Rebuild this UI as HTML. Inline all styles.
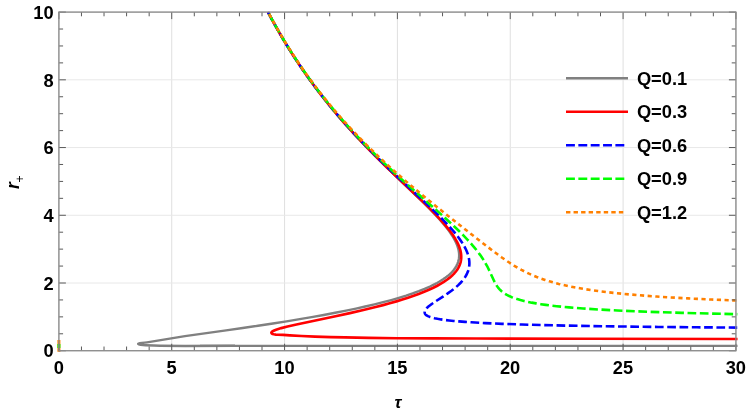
<!DOCTYPE html>
<html><head><meta charset="utf-8"><title>plot</title><style>html,body{margin:0;padding:0;background:#fff}svg{display:block}.t{font-family:"Liberation Sans",Arial,sans-serif}</style></head><body>
<svg width="747" height="414" viewBox="0 0 747 414">
<rect width="747" height="414" fill="#fff"/>
<g stroke="#e8e8e8" stroke-width="1"><line stroke="#dfdfdf" x1="58.89" y1="12.10" x2="58.89" y2="350.72"/><line stroke="#dfdfdf" x1="171.73" y1="12.10" x2="171.73" y2="350.72"/><line stroke="#dfdfdf" x1="284.57" y1="12.10" x2="284.57" y2="350.72"/><line stroke="#dfdfdf" x1="397.40" y1="12.10" x2="397.40" y2="350.72"/><line stroke="#dfdfdf" x1="510.24" y1="12.10" x2="510.24" y2="350.72"/><line stroke="#dfdfdf" x1="623.08" y1="12.10" x2="623.08" y2="350.72"/><line stroke="#dfdfdf" x1="735.92" y1="12.10" x2="735.92" y2="350.72"/><line x1="58.89" y1="350.72" x2="735.92" y2="350.72"/><line x1="58.89" y1="283.00" x2="735.92" y2="283.00"/><line x1="58.89" y1="215.27" x2="735.92" y2="215.27"/><line x1="58.89" y1="147.55" x2="735.92" y2="147.55"/><line x1="58.89" y1="79.82" x2="735.92" y2="79.82"/><line x1="58.89" y1="12.10" x2="735.92" y2="12.10"/></g>
<defs><clipPath id="c"><rect x="56.89" y="11.50" width="680.63" height="340.62"/></clipPath></defs>
<g clip-path="url(#c)" fill="none" stroke-linejoin="round">
<path d="M267.93,12.10 L271.45,18.69 L275.02,25.17 L278.70,31.66 L282.42,38.03 L286.19,44.30 L290.07,50.56 L294.00,56.72 L297.97,62.77 L302.06,68.82 L306.19,74.77 L310.43,80.71 L314.72,86.54 L319.12,92.38 L323.65,98.21 L328.21,103.94 L332.89,109.66 L340.47,118.63 L348.35,127.60 L356.53,136.57 L365.11,145.64 L374.50,155.26 L384.73,165.42 L394.98,175.36 L417.88,197.29 L423.75,203.01 L428.73,207.98 L434.49,213.93 L439.38,219.22 L443.69,224.19 L445.55,226.46 L447.33,228.73 L449.11,231.11 L450.78,233.48 L452.26,235.75 L453.57,237.91 L454.77,240.07 L455.79,242.13 L456.70,244.18 L457.44,246.12 L458.06,248.07 L458.55,250.01 L458.88,251.85 L459.08,253.69 L459.14,255.52 L459.07,257.25 L458.85,258.98 L458.49,260.71 L458.08,262.11 L457.56,263.52 L456.94,264.92 L456.20,266.33 L455.34,267.73 L454.44,269.03 L453.34,270.43 L452.20,271.73 L450.95,273.03 L449.58,274.32 L448.08,275.62 L446.59,276.81 L444.84,278.11 L443.12,279.29 L441.10,280.59 L439.13,281.78 L437.03,282.97 L434.80,284.16 L429.95,286.53 L424.55,288.91 L418.85,291.18 L412.62,293.45 L406.16,295.61 L398.82,297.88 L391.27,300.04 L383.16,302.20 L374.50,304.36 L365.26,306.52 L355.95,308.57 L346.12,310.63 L335.20,312.79 L323.71,314.95 L311.65,317.11 L299.68,319.16 L286.55,321.32 L272.90,323.48 L258.04,325.75 L242.70,328.02 L226.15,330.40 L184.96,336.13 L147,342.4 C142,343.25 138.1,342.9 138.1,343.95 C138.1,345.0 144,345.2 160,345.7 L185,346.0 L235,345.7" stroke="#808080" stroke-width="2.40"/>
<path d="M200,345.85 L740,345.85" stroke="#808080" stroke-width="2.1"/>
<path d="M267.95,12.10 L271.08,17.98 L274.25,23.76 L277.44,29.42 L280.71,35.09 L284.07,40.76 L287.45,46.32 L290.86,51.77 L294.35,57.23 L297.87,62.57 L301.47,67.92 L305.17,73.27 L308.88,78.51 L312.69,83.75 L316.59,88.99 L320.51,94.12 L324.52,99.25 L329.14,105.03 L333.81,110.70 L338.59,116.36 L343.49,122.03 L348.52,127.70 L353.67,133.37 L359.04,139.14 L364.53,144.92 L369.50,150.05 L374.68,155.29 L385.71,166.20 L396.37,176.46 L418.52,197.53 L427.87,206.62 L432.56,211.32 L436.70,215.60 L440.39,219.56 L443.73,223.30 L445.91,225.87 L447.93,228.33 L449.76,230.68 L451.50,233.03 L453.06,235.28 L454.45,237.42 L455.74,239.56 L456.87,241.59 L457.88,243.62 L458.73,245.54 L459.47,247.47 L460.09,249.39 L460.57,251.21 L460.92,253.03 L461.14,254.85 L461.23,256.56 L461.21,257.84 L461.12,259.13 L460.95,260.41 L460.73,261.58 L460.40,262.87 L460.03,264.04 L459.59,265.22 L459.07,266.40 L458.46,267.57 L457.78,268.75 L457.02,269.93 L456.25,271.00 L455.31,272.17 L454.38,273.24 L453.27,274.42 L452.18,275.49 L449.74,277.63 L446.97,279.76 L443.83,281.90 L440.50,283.93 L436.83,285.97 L432.79,288.00 L428.37,290.03 L423.57,292.06 L418.66,293.99 L413.69,295.80 L408.06,297.73 L402.41,299.55 L396.43,301.37 L389.72,303.29 L383.06,305.11 L375.64,307.03 L363.40,310.03 L349.90,313.13 L333.16,316.76 L296.50,324.46 L287.53,326.50 L281.23,328.10 L278.31,328.96 L276.07,329.70 L274.20,330.45 L272.74,331.20 L272.12,331.63 L271.76,331.95 L271.51,332.27 L271.36,332.59 L271.33,332.81 L271.94,333.65 L272.56,333.94 L273.84,334.28 L275.85,334.57 L277.95,334.75 L283.06,334.94 L289.89,335.40 L301.58,336.00 L314.96,336.57 L330.74,337.08 L344.96,337.44 L368.65,337.88 L397.09,338.30 L432.63,338.42 L476.07,338.47 L585.06,338.79 L742.24,339.01" stroke="#ff0000" stroke-width="2.65"/>
<path d="M267.99,12.10 L271.56,18.78 L275.22,25.41 L278.93,31.93 L282.69,38.34 L286.53,44.71 L290.46,51.02 L294.43,57.23 L298.49,63.38 L302.64,69.48 L306.83,75.48 L311.11,81.42 L315.50,87.36 L319.94,93.20 L324.51,99.04 L329.16,104.83 L333.94,110.61 L338.39,115.87 L342.95,121.13 L347.62,126.39 L352.40,131.65 L357.28,136.91 L362.32,142.22 L367.47,147.53 L372.83,152.95 L382.37,162.36 L392.80,172.36 L402.73,181.67 L423.32,200.76 L431.58,208.54 L439.00,215.75 L445.21,222.06 L448.66,225.74 L451.83,229.27 L454.70,232.63 L457.27,235.84 L459.59,238.94 L461.62,241.89 L463.43,244.78 L464.99,247.57 L465.95,249.51 L466.81,251.46 L467.55,253.35 L468.15,255.19 L468.64,257.04 L469.00,258.82 L469.25,260.61 L469.37,262.35 L469.38,264.08 L469.26,265.77 L469.03,267.45 L468.68,269.08 L468.20,270.71 L467.60,272.34 L466.88,273.97 L466.05,275.55 L465.09,277.13 L464.04,278.65 L462.83,280.23 L461.54,281.76 L460.12,283.28 L458.53,284.86 L456.86,286.38 L455.02,287.96 L451.47,290.75 L447.42,293.64 L443.35,296.38 L434.79,301.90 L431.78,303.95 L429.13,305.95 L428.07,306.84 L427.13,307.74 L426.10,308.89 L425.34,310.00 L424.87,311.05 L424.73,311.58 L424.66,312.05 L424.66,312.52 L424.74,313.00 L424.89,313.47 L425.10,313.89 L425.39,314.31 L425.72,314.68 L426.62,315.42 L427.92,316.15 L429.69,316.89 L431.86,317.57 L434.39,318.20 L437.52,318.83 L440.99,319.41 L444.73,319.94 L449.10,320.47 L453.67,320.94 L458.93,321.41 L465.00,321.89 L471.17,322.31 L485.18,323.09 L501.92,323.83 L521.76,324.52 L542.92,325.09 L566.83,325.62 L593.42,326.09 L622.44,326.51 L658.22,326.93 L696.99,327.30 L737.67,327.62" stroke="#0000ff" stroke-width="2.60" stroke-dasharray="8.70 3.60" stroke-dashoffset="12.29"/>
<path d="M268.06,12.10 L271.62,18.75 L275.27,25.34 L278.97,31.84 L282.75,38.28 L286.59,44.63 L290.49,50.87 L294.47,57.07 L298.53,63.21 L302.65,69.25 L306.85,75.24 L311.13,81.19 L315.51,87.08 L319.97,92.92 L324.52,98.71 L329.16,104.45 L333.88,110.14 L338.90,116.03 L344.02,121.87 L349.28,127.71 L354.68,133.55 L360.22,139.40 L365.90,145.24 L371.77,151.13 L377.83,157.07 L383.28,162.31 L389.00,167.70 L394.92,173.18 L401.21,178.92 L413.01,189.50 L438.03,211.60 L443.81,216.79 L448.89,221.42 L454.33,226.51 L459.24,231.24 L463.61,235.62 L467.61,239.80 L470.05,242.47 L472.32,245.04 L474.45,247.56 L476.45,250.02 L478.32,252.44 L480.10,254.86 L481.78,257.28 L483.33,259.64 L485.52,263.27 L487.56,266.99 L489.66,271.27 L492.96,278.58 L494.20,281.19 L495.65,283.91 L497.12,286.23 L497.92,287.34 L498.78,288.39 L499.63,289.35 L500.58,290.31 L501.58,291.21 L502.62,292.07 L503.70,292.88 L504.89,293.68 L506.92,294.89 L509.18,296.05 L511.69,297.16 L514.32,298.16 L517.18,299.12 L520.44,300.08 L523.96,300.98 L527.75,301.84 L531.77,302.65 L536.01,303.40 L540.78,304.16 L545.76,304.86 L550.92,305.52 L556.67,306.17 L562.56,306.77 L569.10,307.38 L583.07,308.49 L599.39,309.54 L617.39,310.50 L636.84,311.36 L658.88,312.16 L681.93,312.87 L709.49,313.57 L737.69,314.18" stroke="#00ff00" stroke-width="2.60" stroke-dasharray="8.70 3.60" stroke-dashoffset="10.16"/>
<path d="M268.15,12.10 L272.91,20.90 L277.75,29.51 L282.71,37.97 L287.78,46.29 L292.96,54.47 L298.29,62.55 L303.73,70.48 L309.32,78.32 L315.01,86.01 L320.86,93.61 L326.84,101.11 L333.01,108.57 L339.33,115.92 L345.84,123.23 L352.48,130.45 L359.36,137.66 L366.19,144.59 L373.23,151.51 L380.54,158.48 L388.07,165.46 L395.87,172.48 L404.04,179.64 L412.65,187.00 L421.74,194.60 L434.15,204.74 L448.51,216.24 L469.96,233.17 L486.20,245.81 L494.76,252.30 L501.82,257.45 L508.10,261.78 L511.04,263.70 L513.95,265.53 L517.74,267.79 L521.53,269.91 L525.23,271.83 L529.02,273.66 L532.90,275.39 L536.77,276.97 L540.86,278.51 L545.04,279.96 L549.47,281.35 L553.99,282.65 L558.76,283.90 L563.59,285.05 L568.90,286.21 L574.24,287.27 L579.83,288.28 L585.98,289.29 L592.41,290.25 L599.14,291.16 L606.13,292.03 L613.37,292.84 L621.32,293.66 L629.53,294.43 L637.96,295.15 L647.20,295.87 L656.64,296.55 L667.00,297.22 L688.15,298.42 L711.31,299.53 L737.72,300.59" stroke="#ff8000" stroke-width="2.60" stroke-dasharray="4.20 3.50" stroke-dashoffset="5.48"/>
<path d="M58.9,351.7 V340.1" stroke="#ff8000" stroke-width="3"/>
<path d="M58.9,348.1 V344.1" stroke="#00ff00" stroke-width="3"/>
</g>
<path d="M58.89,350.72 v-7.0 M58.89,12.10 v7.0 M81.46,350.72 v-4.2 M81.46,12.10 v4.2 M104.03,350.72 v-4.2 M104.03,12.10 v4.2 M126.59,350.72 v-4.2 M126.59,12.10 v4.2 M149.16,350.72 v-4.2 M149.16,12.10 v4.2 M171.73,350.72 v-7.0 M171.73,12.10 v7.0 M194.30,350.72 v-4.2 M194.30,12.10 v4.2 M216.86,350.72 v-4.2 M216.86,12.10 v4.2 M239.43,350.72 v-4.2 M239.43,12.10 v4.2 M262.00,350.72 v-4.2 M262.00,12.10 v4.2 M284.57,350.72 v-7.0 M284.57,12.10 v7.0 M307.13,350.72 v-4.2 M307.13,12.10 v4.2 M329.70,350.72 v-4.2 M329.70,12.10 v4.2 M352.27,350.72 v-4.2 M352.27,12.10 v4.2 M374.84,350.72 v-4.2 M374.84,12.10 v4.2 M397.40,350.72 v-7.0 M397.40,12.10 v7.0 M419.97,350.72 v-4.2 M419.97,12.10 v4.2 M442.54,350.72 v-4.2 M442.54,12.10 v4.2 M465.11,350.72 v-4.2 M465.11,12.10 v4.2 M487.68,350.72 v-4.2 M487.68,12.10 v4.2 M510.24,350.72 v-7.0 M510.24,12.10 v7.0 M532.81,350.72 v-4.2 M532.81,12.10 v4.2 M555.38,350.72 v-4.2 M555.38,12.10 v4.2 M577.95,350.72 v-4.2 M577.95,12.10 v4.2 M600.51,350.72 v-4.2 M600.51,12.10 v4.2 M623.08,350.72 v-7.0 M623.08,12.10 v7.0 M645.65,350.72 v-4.2 M645.65,12.10 v4.2 M668.22,350.72 v-4.2 M668.22,12.10 v4.2 M690.78,350.72 v-4.2 M690.78,12.10 v4.2 M713.35,350.72 v-4.2 M713.35,12.10 v4.2 M735.92,350.72 v-7.0 M735.92,12.10 v7.0 M58.89,350.72 h7.0 M735.92,350.72 h-7.0 M58.89,333.79 h4.2 M735.92,333.79 h-4.2 M58.89,316.86 h4.2 M735.92,316.86 h-4.2 M58.89,299.93 h4.2 M735.92,299.93 h-4.2 M58.89,283.00 h7.0 M735.92,283.00 h-7.0 M58.89,266.07 h4.2 M735.92,266.07 h-4.2 M58.89,249.13 h4.2 M735.92,249.13 h-4.2 M58.89,232.20 h4.2 M735.92,232.20 h-4.2 M58.89,215.27 h7.0 M735.92,215.27 h-7.0 M58.89,198.34 h4.2 M735.92,198.34 h-4.2 M58.89,181.41 h4.2 M735.92,181.41 h-4.2 M58.89,164.48 h4.2 M735.92,164.48 h-4.2 M58.89,147.55 h7.0 M735.92,147.55 h-7.0 M58.89,130.62 h4.2 M735.92,130.62 h-4.2 M58.89,113.69 h4.2 M735.92,113.69 h-4.2 M58.89,96.76 h4.2 M735.92,96.76 h-4.2 M58.89,79.82 h7.0 M735.92,79.82 h-7.0 M58.89,62.89 h4.2 M735.92,62.89 h-4.2 M58.89,45.96 h4.2 M735.92,45.96 h-4.2 M58.89,29.03 h4.2 M735.92,29.03 h-4.2 M58.89,12.10 h7.0 M735.92,12.10 h-7.0" stroke="#5a5a5a" stroke-width="1" fill="none"/>
<rect x="58.89" y="12.10" width="677.03" height="338.62" fill="none" stroke="#8c8c8c" stroke-width="1.35"/>
<g class="t" font-weight="bold" font-size="18.3" fill="#000">
<text x="58.79" y="373.8" text-anchor="middle">0</text>
<text x="171.63" y="373.8" text-anchor="middle">5</text>
<text x="284.47" y="373.8" text-anchor="middle">10</text>
<text x="397.30" y="373.8" text-anchor="middle">15</text>
<text x="510.14" y="373.8" text-anchor="middle">20</text>
<text x="622.98" y="373.8" text-anchor="middle">25</text>
<text x="735.82" y="373.8" text-anchor="middle">30</text>
<text x="53.7" y="357.42" text-anchor="end">0</text>
<text x="53.7" y="289.70" text-anchor="end">2</text>
<text x="53.7" y="221.97" text-anchor="end">4</text>
<text x="53.7" y="154.25" text-anchor="end">6</text>
<text x="53.7" y="86.52" text-anchor="end">8</text>
<text x="53.7" y="18.80" text-anchor="end">10</text>
<text x="636.9" y="84.60">Q=0.1</text>
<text x="636.9" y="118.10">Q=0.3</text>
<text x="636.9" y="151.60">Q=0.6</text>
<text x="636.9" y="185.10">Q=0.9</text>
<text x="636.9" y="218.60">Q=1.2</text>
<text x="394.4" y="407.8" font-style="italic" font-size="17">τ</text>
<text transform="translate(19.1,188.9) rotate(-90)" font-style="italic" font-size="17.5">r<tspan font-weight="normal" font-style="normal" font-size="12.3" dy="4.5" dx="-0.4">+</tspan></text>
</g>
<g fill="none" stroke-width="2.6">
<path d="M566,78.30 H628" stroke="#808080"/>
<path d="M566,111.80 H628" stroke="#ff0000"/>
<path d="M566,145.30 H625" stroke="#0000ff" stroke-dasharray="8.9 3.45"/>
<path d="M566,178.80 H625" stroke="#00ff00" stroke-dasharray="8.9 3.45"/>
<path d="M566,212.30 H625" stroke="#ff8000" stroke-dasharray="4.4 3.15"/>
</g>
</svg>
</body></html>
